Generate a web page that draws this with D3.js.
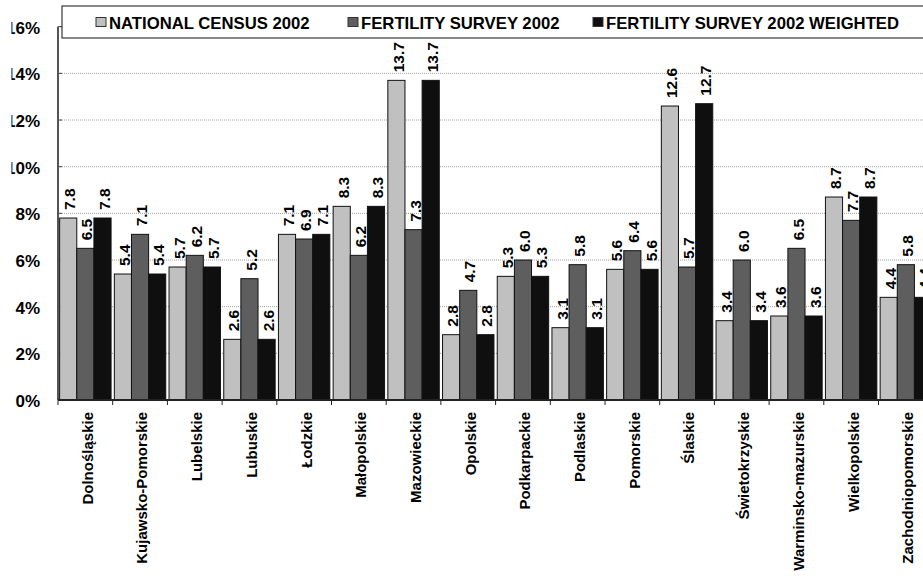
<!DOCTYPE html>
<html>
<head>
<meta charset="utf-8">
<script src="https://cdn.jsdelivr.net/npm/d3@7"></script>
<style>
  body { margin: 0; background: #fff; }
  text { font-family: Arial, "Liberation Sans", sans-serif; font-weight: bold; fill: #000; }
</style>
</head>
<body>
<div id="chart"></div>
<script>
// regions (x axis)
const regions = ["Dolnośląskie", "Kujawsko-Pomorskie", "Lubelskie", "Lubuskie", "Łodzkie",
  "Małopolskie", "Mazowieckie", "Opolskie", "Podkarpackie", "Podlaskie", "Pomorskie",
  "Ślaskie", "Świetokrzyskie", "Warminsko-mazurskie", "Wielkopolskie", "Zachodniopomorskie"]

// series names
const seriesNames = ["NATIONAL CENSUS 2002", "FERTILITY SURVEY 2002", "FERTILITY SURVEY 2002 WEIGHTED"]

// values in %, one array per series
const census   = [7.8, 5.4, 5.7, 2.6, 7.1, 8.3, 13.7, 2.8, 5.3, 3.1, 5.6, 12.6, 3.4, 3.6, 8.7, 4.4]
const survey   = [6.5, 7.1, 6.2, 5.2, 6.9, 6.2, 7.3, 4.7, 6.0, 5.8, 6.4, 5.7, 6.0, 6.5, 7.7, 5.8]
const weighted = [7.8, 5.4, 5.7, 2.6, 7.1, 8.3, 13.7, 2.8, 5.3, 3.1, 5.6, 12.7, 3.4, 3.6, 8.7, 4.4]

const yTicks = [0, 2, 4, 6, 8, 10, 12, 14, 16]

const W = 923, H = 578
const left = 58, bandW = 54.7
const x0 = left, x1 = left + bandW * regions.length
const yTop = 26.7, yBottom = 400

const colors = ["#c0c0c0", "#5e5e5e", "#0f0f0f"]
const seriesData = [census, survey, weighted]

const svg = d3.select("#chart").append("svg")
    .attr("width", W)
    .attr("height", H)

// the picture is cut on the left: tick labels lose their first digit
svg.append("clipPath").attr("id", "leftcut")
  .append("rect")
    .attr("x", 11.5).attr("y", 0)
    .attr("width", W).attr("height", H)

const x = d3.scaleBand()
    .domain(regions)
    .range([x0, x1])
    .paddingInner(0.06)
    .paddingOuter(0.03)

const xs = d3.scaleBand()
    .domain(d3.range(3))
    .range([0, x.bandwidth()])

const y = d3.scaleLinear()
    .domain([0, 16])
    .range([yBottom, yTop])

// gridlines
svg.append("g")
    .selectAll("line")
    .data(yTicks.filter(t => t > 0))
    .join("line")
        .attr("x1", x0).attr("x2", x1)
        .attr("y1", d => y(d)).attr("y2", d => y(d))
        .attr("stroke", "#a0a0a0")
        .attr("stroke-width", 1)
        .attr("stroke-dasharray", "1,1")

// y axis labels + ticks
svg.append("g")
    .attr("clip-path", "url(#leftcut)")
    .selectAll("text")
    .data(yTicks)
    .join("text")
        .attr("x", 40)
        .attr("y", d => y(d) + 1)
        .attr("dy", "0.36em")
        .attr("text-anchor", "end")
        .style("font-size", "17px")
        .text(d => d + "%")

svg.append("g")
    .selectAll("line")
    .data(yTicks)
    .join("line")
        .attr("x1", x0).attr("x2", x0 + 4)
        .attr("y1", d => y(d)).attr("y2", d => y(d))
        .attr("stroke", "#444")

// bars
const groups = svg.append("g")
    .selectAll("g")
    .data(regions)
    .join("g")
        .attr("transform", d => `translate(${x(d)},0)`)

groups.selectAll("rect")
    .data((d, i) => seriesData.map((s, k) => ({k: k, v: s[i]})))
    .join("rect")
        .attr("x", d => xs(d.k))
        .attr("y", d => y(d.v))
        .attr("width", xs.bandwidth())
        .attr("height", d => yBottom - y(d.v))
        .attr("fill", d => colors[d.k])
        .attr("stroke", "#111")
        .attr("stroke-width", 1)

// value labels
groups.selectAll("text")
    .data((d, i) => seriesData.map((s, k) => ({k: k, v: s[i]})))
    .join("text")
        .attr("transform", d => `translate(${xs(d.k) + xs.bandwidth() / 2 + 1.5},${y(d.v) - 8}) rotate(-90)`)
        .attr("dy", "0.36em")
        .style("font-size", "15.5px")
        .text(d => d.v.toFixed(1))

// y axis line
svg.append("line")
    .attr("x1", x0).attr("x2", x0)
    .attr("y1", yTop).attr("y2", yBottom)
    .attr("stroke", "#555")
    .attr("stroke-width", 2)

// x axis line + ticks at band edges
svg.append("line")
    .attr("x1", x0).attr("x2", x1)
    .attr("y1", yBottom).attr("y2", yBottom)
    .attr("stroke", "#222")
    .attr("stroke-width", 2)

svg.append("g")
    .selectAll("line")
    .data(d3.range(regions.length + 1))
    .join("line")
        .attr("x1", i => x0 + i * bandW).attr("x2", i => x0 + i * bandW)
        .attr("y1", yBottom).attr("y2", yBottom + 5)
        .attr("stroke", "#222")

// category labels
svg.append("g")
    .selectAll("text")
    .data(regions)
    .join("text")
        .attr("transform", d => `translate(${x(d) + x.bandwidth() / 2 + 2},${yBottom + 12}) rotate(-90)`)
        .attr("dy", "0.36em")
        .attr("text-anchor", "end")
        .style("font-size", "15px")
        .text(d => d)

// legend
const legend = svg.append("g")
legend.append("rect")
    .attr("x", 62).attr("y", 6)
    .attr("width", 900).attr("height", 32)
    .attr("fill", "#fff")
    .attr("stroke", "#111")
    .attr("stroke-width", 1)

const legendX = [96, 348, 593]
seriesNames.forEach((name, k) => {
    legend.append("rect")
        .attr("x", legendX[k]).attr("y", 17.5)
        .attr("width", 10).attr("height", 9)
        .attr("fill", colors[k])
        .attr("stroke", "#333")
    legend.append("text")
        .attr("x", legendX[k] + 13)
        .attr("y", 28.5)
        .style("font-size", "16.7px")
        .text(name)
})
</script>
</body>
</html>
